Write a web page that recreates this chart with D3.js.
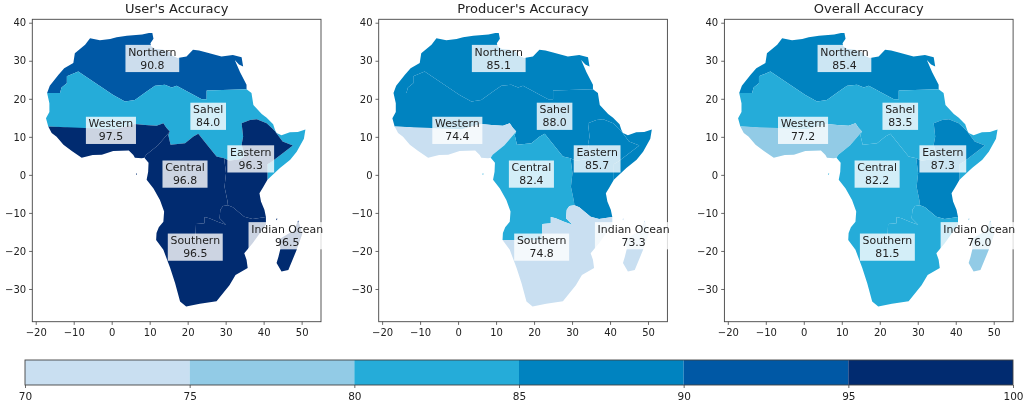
<!DOCTYPE html>
<html>
<head>
<meta charset="utf-8">
<script src="https://cdn.jsdelivr.net/npm/d3@7"></script>
<style>
html, body { margin: 0; padding: 0; background: #fff; }
svg { display: block; filter: blur(0.35px); }
text { font-family: "DejaVu Sans", sans-serif; fill: #222; }
</style>
</head>
<body>
<svg></svg>
<script>
// accuracy values per region, same order as regionNames
const regionNames = ['Northern', 'Sahel', 'Western', 'Central', 'Eastern', 'Southern', 'Indian Ocean'];
const usersAccuracy = [90.8, 84.0, 97.5, 96.8, 96.3, 96.5, 96.5];
const producersAccuracy = [85.1, 88.0, 74.4, 82.4, 85.7, 74.8, 73.3];
const overallAccuracy = [85.4, 83.5, 77.2, 82.2, 87.3, 81.5, 76.0];
const panelTitles = ["User's Accuracy", "Producer's Accuracy", 'Overall Accuracy'];

// label anchors, lon / lat
const labelLon = [10.7, 25.4, -0.2, 19.3, 36.6, 22, 46.2];
const labelLat = [30.6, 15.4, 11.7, 0.2, 4.2, -19, -16];

// colour classes
const classBreaks = [75, 80, 85, 90, 95];
const classColors = ['#c9dff1', '#92cbe6', '#25acd9', '#0083c0', '#0058a5', '#012b70'];
const barTicks = [70, 75, 80, 85, 90, 95, 100];
const xTicks = [-20, -10, 0, 10, 20, 30, 40, 50];
const yTicks = [-30, -20, -10, 0, 10, 20, 30, 40];

// region borders and coast pieces, lon / lat
const coastNorth = [[-17, 21.5], [-16.3, 23.4], [-14, 26.3], [-12.5, 28], [-10.1, 29.4], [-9.7, 32], [-7, 34.2], [-5.7, 35.9], [-3.1, 35.4], [-0.4, 35.7], [1.3, 36.2], [4, 36.6], [8, 36.9], [9.8, 37.3], [10.7, 37.3], [11, 35.8], [10.2, 34.6], [10.4, 33.8], [11.5, 33.1], [13.5, 32.9], [15.3, 32.3], [16, 31.3], [17.4, 30.7], [19.7, 31.1], [21.4, 32.9], [23, 32.7], [25, 32.2], [28.9, 31.1], [31.9, 31.5], [34.2, 30.9], [34.6, 28.5], [33.5, 29], [32.4, 30.2], [33.8, 27], [35.5, 23.7], [35.5, 22.5]];
const borderNorthSahel = [[35.5, 22.5], [25, 22.2], [25, 19.9], [23.7, 19.9], [17.1, 23.4], [15.8, 23], [14, 23.7], [11.4, 23.4], [9.2, 21.9], [6.1, 19.7], [3.5, 19.3], [0.4, 21], [-8.8, 27.2], [-11.8, 25.9], [-11.8, 24.1], [-13.2, 23], [-13.6, 21.5], [-17, 21.5]];
const coastRedSea = [[35.5, 22.5], [36.8, 21.5], [37.3, 18.4], [39.5, 16], [40.8, 15], [42.5, 13.3], [43, 11.8], [43.4, 11], [44.7, 10.4], [46.9, 11.2], [49, 11.3], [51, 11.9], [50.6, 9.5], [48.7, 6.1], [47, 4], [44.3, 1.8], [41, -1.3]];
const borderEastSahel = [[41, -1.3], [41, 2.8], [42.2, 3.5], [47.7, 7.7], [45, 8.8], [43, 11.5], [42.3, 12.2], [40.8, 13.6], [38.2, 14.6], [36.4, 14.4], [34.2, 13.6], [34.6, 10.1], [34.2, 7.9], [35, 5], [34, 4.2], [31, 3.7], [29.6, 4.4]];
const borderCentralSahel = [[29.6, 4.4], [27.6, 4.8], [24.1, 9.2], [22.8, 10.8], [21.5, 10.1], [19.3, 8.3], [15.5, 7.9], [14.9, 10.5], [15.3, 11.4]];
const borderWestSahel = [[15.3, 11.4], [14.4, 12.4], [13.6, 13.6], [11.8, 12.9], [8.8, 13.1], [6.1, 13.4], [3, 12.5], [-1, 11.5], [-4, 11], [-7, 10.2], [-8.8, 10.5], [-9.2, 11.8], [-12.7, 12.5], [-16.7, 12.7]];
const coastSahelWest = [[-16.7, 12.7], [-17.3, 14.9], [-16.4, 16.5], [-16.4, 18.8], [-17, 21.5]];
const coastWest = [[-16.7, 12.7], [-15.8, 11], [-14.5, 10], [-12.7, 7.9], [-10.5, 6.3], [-7.9, 4.5], [-5, 5.2], [-2.6, 5.3], [0.4, 6.3], [4.5, 6.4], [5.7, 5.2], [6.1, 4.5], [7.9, 4.4], [8.6, 4.5]];
const borderWestCentral = [[8.6, 4.5], [9.1, 5.3], [12.2, 7.8], [15.3, 11.4]];
const coastCentral = [[8.6, 4.5], [9.7, 3.2], [9.6, 0.8], [9.2, -1.3], [11, -3.6], [12.7, -6.6], [13.8, -9.6], [13.6, -12.3], [12.4, -13.8], [11.8, -15.3], [11.7, -17.1]];
const borderCentralEast = [[29.6, 4.4], [30.1, 0.4], [29.7, -3.1], [30.5, -7], [30.6, -8]];
const borderEastSouth = [[40.6, -11.1], [37.1, -11.6], [34.9, -11], [31.9, -8.5], [30.6, -8]];
const borderCentralSouth = [[30.6, -8], [29.3, -8.2], [28.6, -9.2], [28.4, -11.4], [30.1, -13.1], [27.9, -12.3], [25.7, -11.4], [24.4, -11.1], [24.4, -12.7], [22.2, -12.9], [22, -17.1], [11.7, -17.1]];
const coastEast = [[41, -1.3], [39.9, -3.2], [38.9, -4.8], [39.3, -7], [40.2, -9.2], [40.6, -11.1]];
const coastSouth = [[11.7, -17.1], [13.6, -19.7], [15.4, -24.5], [16.7, -28.5], [18, -33.3], [19.6, -34.6], [23.2, -33.9], [27.6, -33.2], [31, -29], [32.6, -26.3], [35.8, -24.5], [35.5, -22.3], [34.9, -20.6], [37.1, -18], [40.6, -13.1], [40.6, -11.1]];
const madagascar = [[49.1, -12], [50.2, -15.5], [48.7, -19.7], [46.5, -25], [44.7, -25.4], [43.4, -23.2], [43.9, -21.5], [44.4, -19.5], [44, -17], [46.5, -15.5], [47.8, -14.9]];
const comoros = [[43.4, -11.5], [43.6, -11.5], [43.5, -11.9], [43.3, -11.8]];
const saoTome = [[6.5, 0.4], [6.7, 0.3], [6.6, 0], [6.4, 0.1]];

const rev = a => a.slice().reverse();

// outline of each region, in regionNames order
const regionShapes = [
    [coastNorth.concat(borderNorthSahel)],
    [rev(borderNorthSahel).concat(coastRedSea, borderEastSahel, borderCentralSahel, borderWestSahel, coastSahelWest)],
    [rev(borderWestSahel).concat(coastWest, borderWestCentral)],
    [borderCentralSahel.concat(rev(borderWestCentral), coastCentral, rev(borderCentralSouth), rev(borderCentralEast)), saoTome],
    [rev(borderEastSahel).concat(coastEast, borderEastSouth, rev(borderCentralEast))],
    [coastSouth.concat(borderEastSouth, borderCentralSouth)],
    [madagascar, comoros]
];

const panelValues = [usersAccuracy, producersAccuracy, overallAccuracy];
const panelLefts = [32.3, 378.7, 724.4];

const width = 1024;
const height = 403;
const panelWidth = 288.7;
const panelTop = 19.3;
const panelBottom = 321.7;

const svg = d3.select('svg').attr('width', width).attr('height', height);

const color = d3.scaleThreshold().domain(classBreaks).range(classColors);

const y = d3.scaleLinear().domain([40.9, -38.6]).range([panelTop, panelBottom]);

panelValues.forEach((values, p) => {
    const x = d3.scaleLinear().domain([-20.9, 55.1]).range([panelLefts[p], panelLefts[p] + panelWidth]);
    const line = d3.line().x(d => x(d[0])).y(d => y(d[1]));

    const g = svg.append('g').attr('class', 'panel');

    // regions
    g.append('g').selectAll('path')
        .data(regionNames)
        .join('path')
        .attr('d', (d, i) => regionShapes[i].map(s => line(s) + 'Z').join(''))
        .attr('fill', (d, i) => color(values[i]));

    // frame
    g.append('rect')
        .attr('x', panelLefts[p]).attr('y', panelTop)
        .attr('width', panelWidth).attr('height', panelBottom - panelTop)
        .attr('fill', 'none').attr('stroke', '#444').attr('stroke-width', 0.9);

    const xAxis = g.append('g')
        .attr('transform', 'translate(0,' + panelBottom + ')')
        .call(d3.axisBottom(x).tickValues(xTicks).tickSize(3.2).tickPadding(4));
    const yAxis = g.append('g')
        .attr('transform', 'translate(' + panelLefts[p] + ',0)')
        .call(d3.axisLeft(y).tickValues(yTicks).tickSize(3.2).tickPadding(3));
    [xAxis, yAxis].forEach(a => {
        a.select('.domain').remove();
        a.selectAll('.tick line').attr('stroke', '#444').attr('stroke-width', 0.8);
        a.selectAll('.tick text').style('font-family', '"DejaVu Sans"').attr('font-size', 10).style('fill', '#222');
    });

    g.append('text')
        .attr('x', panelLefts[p] + panelWidth / 2).attr('y', 12.5)
        .attr('text-anchor', 'middle').attr('font-size', 13)
        .text(panelTitles[p]);

    // region labels with their half transparent boxes
    const label = g.append('g').selectAll('g')
        .data(regionNames)
        .join('g')
        .attr('transform', (d, i) => 'translate(' + x(labelLon[i]) + ',' + y(labelLat[i]) + ')');
    const boxText = label.append('text')
        .attr('text-anchor', 'middle').attr('font-size', 10.9);
    boxText.append('tspan').attr('x', 0).attr('y', -2.9).text(d => d);
    boxText.append('tspan').attr('x', 0).attr('y', 10.1).text((d, i) => values[i].toFixed(1));
    boxText.each(function () {
        const b = this.getBBox();
        d3.select(this.parentNode).insert('rect', 'text')
            .attr('x', b.x - 2.7).attr('y', -13.6)
            .attr('width', b.width + 5.4).attr('height', 27.2)
            .attr('fill', '#fff').attr('fill-opacity', 0.8);
    });
});

// colour bar
const barX = d3.scaleLinear().domain([70, 100]).range([25, 1013]);
const barTop = 360;
const barBottom = 385;
const barEdges = [70].concat(classBreaks, [100]);

svg.append('g').selectAll('rect')
    .data(classColors)
    .join('rect')
    .attr('x', (d, i) => barX(barEdges[i]))
    .attr('y', barTop)
    .attr('width', (d, i) => barX(barEdges[i + 1]) - barX(barEdges[i]))
    .attr('height', barBottom - barTop)
    .attr('fill', d => d);

svg.append('rect')
    .attr('x', barX(70)).attr('y', barTop)
    .attr('width', barX(100) - barX(70)).attr('height', barBottom - barTop)
    .attr('fill', 'none').attr('stroke', '#444').attr('stroke-width', 0.9);

const barAxis = svg.append('g')
    .attr('transform', 'translate(0,' + barBottom + ')')
    .call(d3.axisBottom(barX).tickValues(barTicks).tickSize(3).tickPadding(5));
barAxis.select('.domain').remove();
barAxis.selectAll('.tick line').attr('stroke', '#444').attr('stroke-width', 0.8);
barAxis.selectAll('.tick text').style('font-family', '"DejaVu Sans"').attr('font-size', 10.5).style('fill', '#222');
</script>
</body>
</html>
